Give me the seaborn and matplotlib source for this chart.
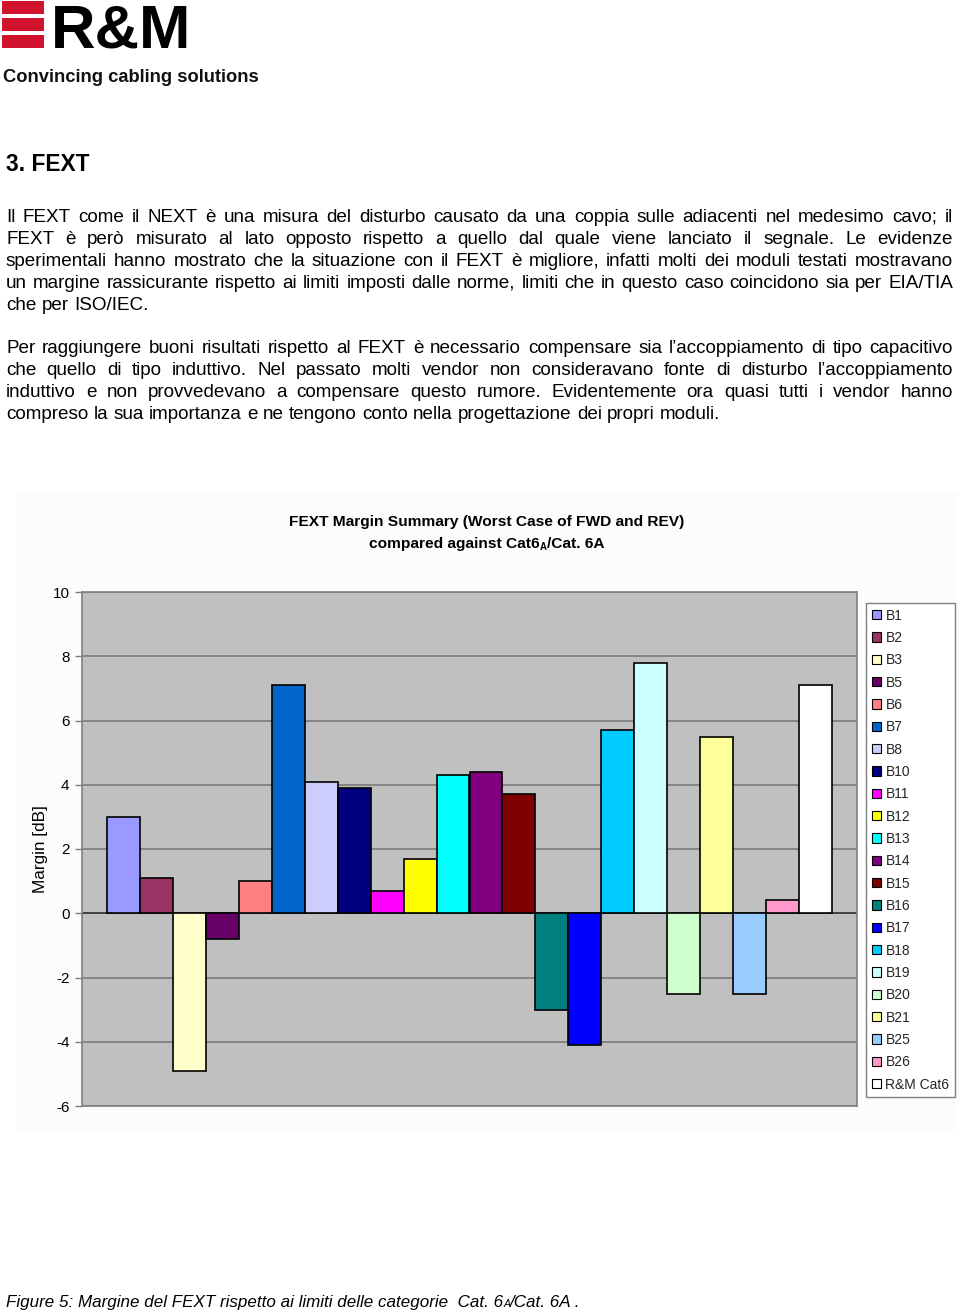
import numpy as np
import pandas as pd
import matplotlib
matplotlib.use("Agg")
import matplotlib.pyplot as plt
import seaborn as sns
from matplotlib.patches import Rectangle, Patch

# ---------------- data ----------------
series_names = ["B1", "B2", "B3", "B5", "B6", "B7", "B8", "B10", "B11", "B12", "B13",
                "B14", "B15", "B16", "B17", "B18", "B19", "B20", "B21", "B25", "B26",
                "R&M Cat6"]
margins_db = [3.0, 1.1, -4.9, -0.8, 1.0, 7.1, 4.1, 3.9, 0.7, 1.7, 4.3,
              4.4, 3.7, -3.0, -4.1, 5.7, 7.8, -2.5, 5.5, -2.5, 0.4,
              7.1]
series_colors = ["#9999FF", "#993366", "#FFFFCC", "#660066", "#FF8080", "#0066CC",
                 "#CCCCFF", "#000080", "#FF00FF", "#FFFF00", "#00FFFF", "#800080",
                 "#800000", "#008080", "#0000FF", "#00CCFF", "#CCFFFF", "#CCFFCC",
                 "#FFFF99", "#99CCFF", "#FF99CC", "#FFFFFF"]
y_ticks = [-6, -4, -2, 0, 2, 4, 6, 8, 10]

para1 = [
    "Il FEXT come il NEXT è una misura del disturbo causato da una coppia sulle adiacenti nel medesimo cavo; il",
    "FEXT è però misurato al lato opposto rispetto a quello dal quale viene lanciato il segnale. Le evidenze",
    "sperimentali hanno mostrato che la situazione con il FEXT è migliore, infatti molti dei moduli testati mostravano",
    "un margine rassicurante rispetto ai limiti imposti dalle norme, limiti che in questo caso coincidono sia per EIA/TIA",
    "che per ISO/IEC.",
]
para2 = [
    "Per raggiungere buoni risultati rispetto al FEXT è necessario compensare  sia l\u2019accoppiamento di tipo capacitivo",
    "che quello di tipo induttivo. Nel passato molti vendor non consideravano fonte di disturbo l\u2019accoppiamento",
    "induttivo e non provvedevano a compensare questo rumore. Evidentemente ora quasi tutti i vendor hanno",
    "compreso la sua importanza e ne tengono conto nella progettazione dei propri moduli.",
]

# ---------------- setup ----------------
W, H = 960, 1314
sns.set_theme(style="white")
plt.rcParams['font.family'] = ['Liberation Sans', 'DejaVu Sans']
fig = plt.figure(figsize=(9.6, 13.14), dpi=100)
fig.patch.set_facecolor('white')
renderer = fig.canvas.get_renderer()


def fx(x):
    return x / W


def fy(y):
    return 1 - y / H


def measure(s, **kw):
    t = fig.text(0, 0, s, **kw)
    w = t.get_window_extent(renderer).width
    t.remove()
    return w


def fit_size(s, target, base=12, **kw):
    return base * target / measure(s, fontsize=base, **kw)


def runs_text(runs, x, y, ha='left'):
    widths = [measure(s, **kw) for s, kw, dy in runs]
    total = sum(widths)
    x0 = x - total / 2 if ha == 'center' else x
    for (s, kw, dy), w in zip(runs, widths):
        fig.text(fx(x0), fy(y + dy), s, va='baseline', ha='left', **kw)
        x0 += w


# ---------------- header / logo ----------------
logo_red = "#D0122C"
for (y0, y1) in [(1, 14), (18, 31), (35, 48)]:
    fig.add_artist(Rectangle((fx(2), fy(y1)), (44 - 2) / W, (y1 - y0) / H,
                             transform=fig.transFigure, facecolor=logo_red,
                             edgecolor='none'))
fs_logo = fit_size("R&M", 140, fontweight='bold')
fig.text(fx(51), fy(47.5), "R&M", fontsize=fs_logo, fontweight='bold',
         color='black', va='baseline', ha='left')
fs_tag = fit_size("Convincing cabling solutions", 255, fontweight='bold')
fig.text(fx(3), fy(82), "Convincing cabling solutions", fontsize=fs_tag,
         fontweight='bold', color='#111111', va='baseline', ha='left')

fs_h = fit_size("3. FEXT", 83, fontweight='bold')
fig.text(fx(6), fy(171), "3. FEXT", fontsize=fs_h, fontweight='bold',
         color='black', va='baseline', ha='left')

# ---------------- body text (justified) ----------------
fs_body = fit_size(para2[-1], 723)
space_w = measure("a a", fontsize=fs_body) - measure("aa", fontsize=fs_body)


def justify_line(line, y, x0, x1, last=False):
    words = line.split()
    ws = [measure(w, fontsize=fs_body) for w in words]
    if last or len(words) == 1:
        gap = space_w
    else:
        gap = (x1 - x0 - sum(ws)) / (len(words) - 1)
    x = x0
    for w, wd in zip(words, ws):
        fig.text(fx(x), fy(y), w, fontsize=fs_body, va='baseline', ha='left',
                 color='black')
        x += wd + gap


for i, (line, yb) in enumerate(zip(para1, [222, 244, 266, 288, 309.5])):
    justify_line(line, yb, 6, 953, last=(i == len(para1) - 1))
for i, (line, yb) in enumerate(zip(para2, [353, 375, 397, 419])):
    justify_line(line, yb, 6, 953, last=(i == len(para2) - 1))

# ---------------- chart background ----------------
fig.add_artist(Rectangle((fx(16), fy(1130)), (958 - 16) / W, (1130 - 493) / H,
                         transform=fig.transFigure, facecolor='#FCFCFC',
                         edgecolor='none', zorder=0))

title1 = "FEXT Margin Summary (Worst Case of FWD and REV)"
fs_t = fit_size(title1, 394, fontweight='bold')
fig.text(fx(487), fy(526), title1, fontsize=fs_t, fontweight='bold',
         ha='center', va='baseline', color='black')
tb = dict(fontsize=fs_t, fontweight='bold', color='black')
tbs = dict(fontsize=fs_t * 0.62, fontweight='bold', color='black')
runs_text([("compared against Cat6", tb, 0), ("A", tbs, 2.5), ("/Cat. 6A", tb, 0)],
          487, 548, ha='center')

# ---------------- axes & bars ----------------
ax = fig.add_axes([fx(82), fy(1106), (857 - 82) / W, (1106 - 592) / H])
df = pd.DataFrame({"series": series_names, "margin": margins_db})
sns.barplot(data=df, x="series", y="margin", hue="series", order=series_names,
            hue_order=series_names, palette=dict(zip(series_names, series_colors)),
            width=1.0, dodge=False, legend=False, saturation=1,
            edgecolor='black', linewidth=1.2, ax=ax)

ax.set_facecolor('#C0C0C0')
ax.set_xlim(-1.26, 22.26)
ax.set_ylim(-6, 10)
ax.set_yticks(y_ticks)
ax.set_yticklabels([str(t) for t in y_ticks])
ax.set_xticks([])
ax.set_xlabel('')
ax.set_axisbelow(True)
ax.yaxis.grid(True, color='#808080', linewidth=1.3)
ax.axhline(0, color='#303030', linewidth=1.1, zorder=0.8)
for side, sp in ax.spines.items():
    sp.set_visible(True)
    sp.set_color('#808080')
    sp.set_linewidth(1.2)
ax.tick_params(axis='y', length=5, width=1, color='#808080', direction='out',
               labelsize=11, pad=4, labelcolor='black', left=True)

fs_yl = fit_size("Margin [dB]", 88)
ax.set_ylabel("Margin [dB]", fontsize=fs_yl, color='black')
ax.yaxis.label.set_va('center')
ax.yaxis.set_label_coords((40 - 82) / 775, 0.5)

handles = [Patch(facecolor=c, edgecolor='black', linewidth=0.8, label=n)
           for n, c in zip(series_names, series_colors)]
leg = ax.legend(handles=handles, loc='upper left',
                bbox_to_anchor=(fx(866), fy(603)), bbox_transform=fig.transFigure,
                frameon=True, fancybox=False, edgecolor='#808080', facecolor='white',
                fontsize=10, handlelength=0.65, handleheight=0.65,
                handletextpad=0.35, labelspacing=0.6, borderpad=0.4,
                borderaxespad=0)
leg.get_frame().set_linewidth(1.0)
leg.get_frame().set_alpha(1)

# ---------------- caption ----------------
cap_main = "Figure 5: Margine del FEXT rispetto ai limiti delle categorie  Cat. 6"
cap_tail = "/Cat. 6A ."
full_w = measure(cap_main + "A" + cap_tail, fontsize=12, fontstyle='italic')
fs_cap = 12 * 577 / full_w
ci = dict(fontsize=fs_cap, fontstyle='italic', color='black')
cis = dict(fontsize=fs_cap * 0.62, fontstyle='italic', color='black')
runs_text([(cap_main, ci, 0), ("A", cis, 0), (cap_tail, ci, 0)], 6, 1307)

fig.savefig("out.png", dpi=100, facecolor='white')
